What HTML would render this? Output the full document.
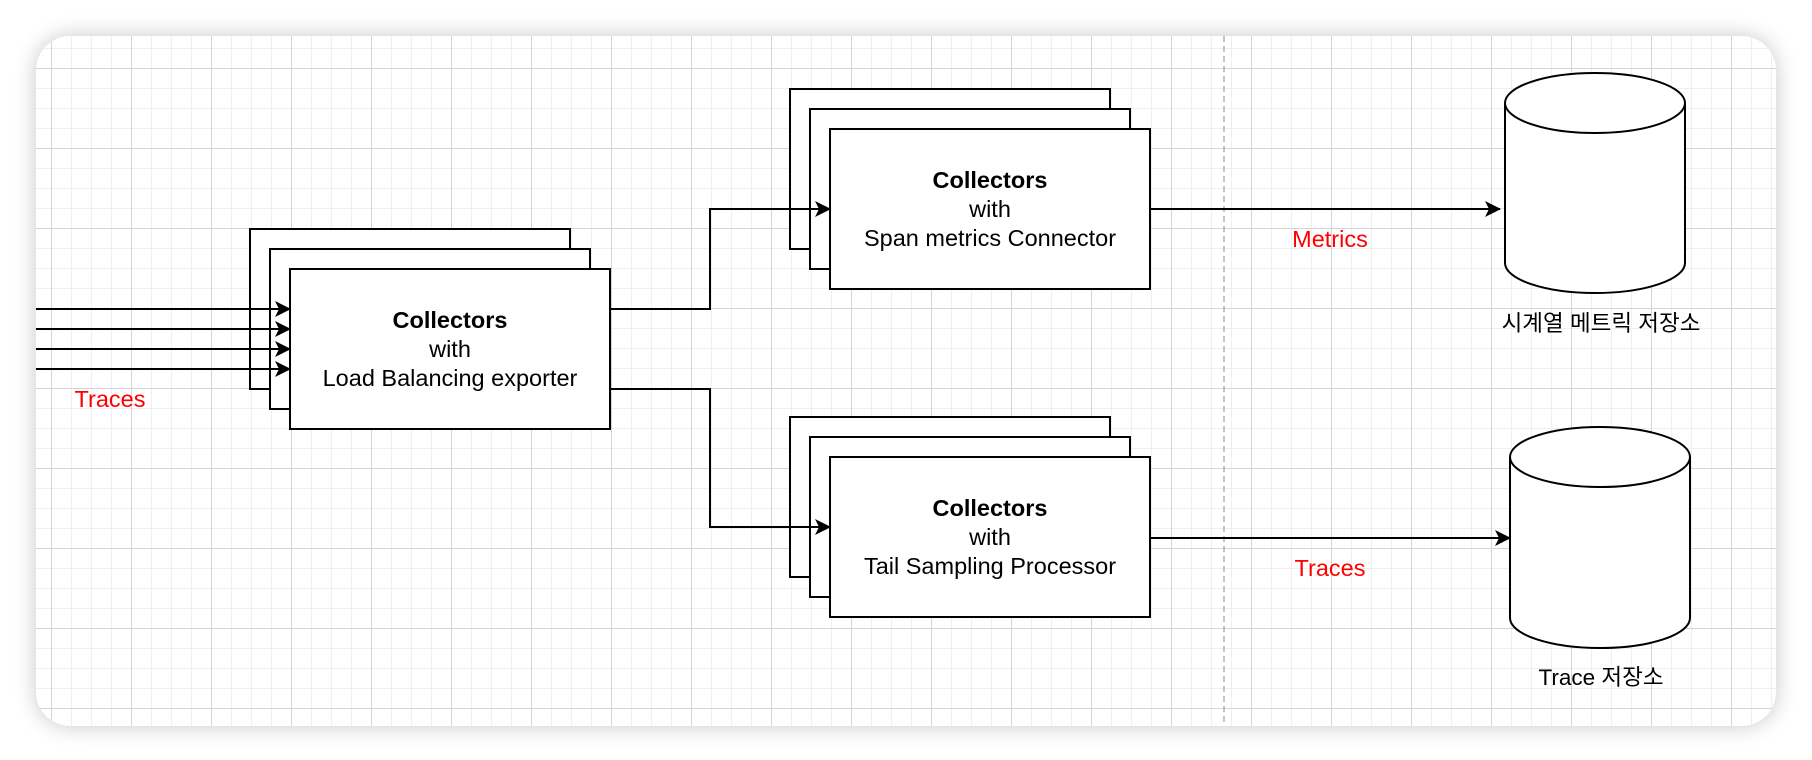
<!DOCTYPE html>
<html><head><meta charset="utf-8"><style>
html,body{margin:0;padding:0;background:#fff;}
body{width:1812px;height:760px;overflow:hidden;position:relative;font-family:"Liberation Sans","Noto Sans CJK KR",sans-serif;}
.card{position:absolute;left:36px;top:36px;width:1740px;height:690px;border-radius:34px;background:#fff;box-shadow:0 0 22px rgba(0,0,0,0.22);overflow:hidden;}
svg{position:absolute;left:0;top:0;}
</style></head><body>
<div class="card"></div>
<svg width="1812" height="760" viewBox="0 0 1812 760">
<defs>
<clipPath id="c"><rect x="36" y="36" width="1740" height="690" rx="34"/></clipPath>
<pattern id="minor" x="11" y="8" width="20" height="20" patternUnits="userSpaceOnUse">
<path d="M0 0.5H20M0.5 0V20" stroke="#efefef" stroke-width="1" fill="none"/></pattern>
<pattern id="major" x="51" y="68" width="80" height="80" patternUnits="userSpaceOnUse">
<path d="M0 0.5H80M0.5 0V80" stroke="#d4d4d4" stroke-width="1" fill="none"/></pattern>
<marker id="a" markerWidth="16" markerHeight="16" refX="15" refY="8" orient="auto" markerUnits="userSpaceOnUse">
<path d="M0 0L16 8L0 16L4 8Z" fill="#000"/></marker>
</defs>
<g clip-path="url(#c)">
<rect x="36" y="36" width="1740" height="690" fill="url(#minor)"/>
<rect x="36" y="36" width="1740" height="690" fill="url(#major)"/>
<line x1="1224" y1="36" x2="1224" y2="726" stroke="#b0b0b0" stroke-width="1.5" stroke-dasharray="6 4"/>
</g>
<g stroke="#000" stroke-width="2" fill="#fff">
<rect x="250" y="229" width="320" height="160"/>
<rect x="270" y="249" width="320" height="160"/>
<rect x="290" y="269" width="320" height="160"/>
<rect x="790" y="89" width="320" height="160"/>
<rect x="810" y="109" width="320" height="160"/>
<rect x="830" y="129" width="320" height="160"/>
<rect x="790" y="417" width="320" height="160"/>
<rect x="810" y="437" width="320" height="160"/>
<rect x="830" y="457" width="320" height="160"/>
</g>
<g stroke="#000" stroke-width="2" fill="none" marker-end="url(#a)">
<path d="M36 309H290"/><path d="M36 329H290"/><path d="M36 349H290"/><path d="M36 369H290"/>
<path d="M610 309H710V209H830"/>
<path d="M610 389H710V527H830"/>
<path d="M1150 209H1500"/>
<path d="M1150 538H1510"/>
</g>
<g stroke="#000" stroke-width="2" fill="#fff">
<path d="M1505 103V263A90 30 0 0 0 1685 263V103A90 30 0 0 0 1505 103Z"/>
<path d="M1505 103A90 30 0 0 0 1685 103"/>
<path d="M1510 457V618A90 30 0 0 0 1690 618V457A90 30 0 0 0 1510 457Z"/>
<path d="M1510 457A90 30 0 0 0 1690 457"/>
</g>
<g font-family="Liberation Sans, Noto Sans CJK KR, sans-serif" font-size="23.5" text-anchor="middle" fill="#000">
<text x="450" y="328" font-weight="bold">Collectors</text>
<text x="450" y="357">with</text>
<text x="450" y="386">Load Balancing exporter</text>
<text x="990" y="188" font-weight="bold">Collectors</text>
<text x="990" y="217">with</text>
<text x="990" y="246">Span metrics Connector</text>
<text x="990" y="516" font-weight="bold">Collectors</text>
<text x="990" y="545">with</text>
<text x="990" y="574">Tail Sampling Processor</text>
<text x="1601" y="331" font-size="22.5">시계열 메트릭 저장소</text>
<text x="1601" y="685" font-size="22.5">Trace 저장소</text>
<g fill="#ff0000">
<text x="110" y="407">Traces</text>
<text x="1330" y="247">Metrics</text>
<text x="1330" y="576">Traces</text>
</g>
</g>
</svg>
</body></html>
